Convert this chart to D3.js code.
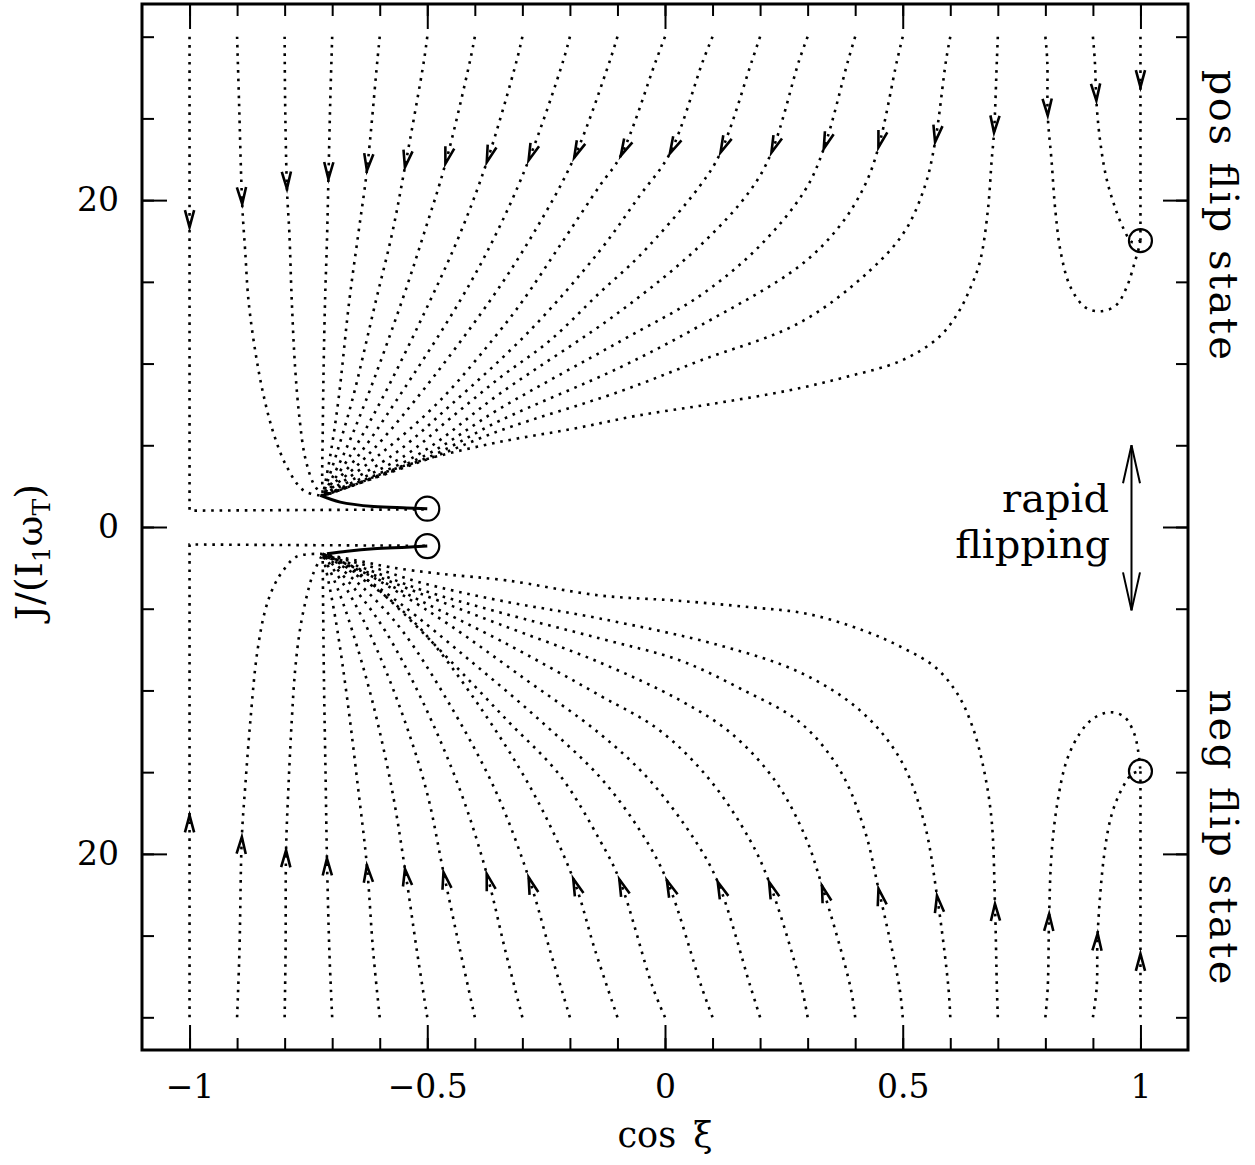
<!DOCTYPE html>
<html><head><meta charset="utf-8">
<script src="https://cdn.jsdelivr.net/npm/d3@7"></script>
<style>body{margin:0;background:#fff} text{font-family:"DejaVu Serif",serif;fill:#000}</style>
</head><body><svg id="c" width="1255" height="1165"></svg>
<script>
// ---------- data ----------
const startCos = [-1,-0.9,-0.8,-0.7,-0.6,-0.5,-0.4,-0.3,-0.2,-0.1,0,0.1,0.2,0.3,0.4,0.5,0.6,0.7,0.8,0.9,1];
const xTicks = [-1,-0.5,0,0.5,1];
const xTickLabels = ["−1","−0.5","0","0.5","1"];
const xMinor = [-1,-0.9,-0.8,-0.7,-0.6,-0.5,-0.4,-0.3,-0.2,-0.1,0,0.1,0.2,0.3,0.4,0.5,0.6,0.7,0.8,0.9,1];
const yTicks = [-20,0,20];
const yTickLabels = ["20","0","20"];
const yMinor = [-30,-25,-20,-15,-10,-5,0,5,10,15,20,25,30];

// trajectories starting at J = +30 (pos flip state side)
const upperCurves = [
 [[-1,30],[-1,1.0],[-0.5,1.08]],
 [[-0.9,30],[-0.896,26.1],[-0.889,19.6],[-0.883,16.9],[-0.876,13.85],[-0.862,10.8],[-0.845,8.15],[-0.823,5.7],[-0.795,3.66],[-0.76,2.23],[-0.72,1.9]],
 [[-0.8,30],[-0.799,26.1],[-0.795,20.6],[-0.79,17.95],[-0.785,13.85],[-0.778,9.77],[-0.769,6.72],[-0.757,4.27],[-0.739,2.64],[-0.72,1.9]],
 [[-0.7,30],[-0.704,26.1],[-0.708,21.2],[-0.711,17.5],[-0.715,13.85],[-0.718,9.77],[-0.72,5.5],[-0.721,3.0],[-0.72,1.9]],
 [[-0.6,30],[-0.605,28.53],[-0.627,21.8],[-0.645,17.95],[-0.664,13.85],[-0.687,7.74],[-0.704,4.37],[-0.72,1.9]],
 [[-0.5,30],[-0.507,28.53],[-0.547,22.01],[-0.574,17.95],[-0.608,13.85],[-0.658,7.74],[-0.692,4.37],[-0.72,1.9]],
 [[-0.4,30],[-0.41,28.53],[-0.462,22.21],[-0.507,17.95],[-0.553,13.85],[-0.629,7.74],[-0.677,4.37],[-0.72,1.9]],
 [[-0.3,30],[-0.312,28.53],[-0.375,22.31],[-0.431,17.95],[-0.494,13.85],[-0.597,7.74],[-0.662,4.37],[-0.72,1.9]],
 [[-0.2,30],[-0.214,28.53],[-0.287,22.42],[-0.355,17.95],[-0.431,13.85],[-0.565,7.74],[-0.645,4.37],[-0.72,1.9]],
 [[-0.1,30],[-0.116,28.53],[-0.191,22.6],[-0.277,17.95],[-0.368,13.85],[-0.526,7.74],[-0.626,4.37],[-0.72,1.9]],
 [[0,30],[-0.019,28.53],[-0.093,22.72],[-0.137,20.89],[-0.221,17.22],[-0.299,13.85],[-0.347,12.02],[-0.473,7.74],[-0.603,4.37],[-0.72,1.9]],
 [[0.1,30],[0.08,28.53],[0.01,22.84],[-0.053,20.28],[-0.137,16.91],[-0.284,12.02],[-0.452,7.43],[-0.574,4.37],[-0.72,1.9]],
 [[0.2,30],[0.183,28.53],[0.117,22.92],[0.074,20.89],[-0.053,16.61],[-0.137,14.34],[-0.242,11.41],[-0.347,9.14],[-0.452,6.64],[-0.547,4.37],[-0.72,1.9]],
 [[0.3,30],[0.282,28.53],[0.224,22.92],[0.179,20.58],[0.074,17.22],[-0.095,13.18],[-0.347,8.17],[-0.523,4.37],[-0.72,1.9]],
 [[0.4,30],[0.385,28.53],[0.334,23.15],[0.294,20.58],[0.2,17.22],[0.074,14.16],[-0.095,11.35],[-0.347,7.25],[-0.505,4.37],[-0.72,1.9]],
 [[0.5,30],[0.488,28.53],[0.449,23.23],[0.42,20.89],[0.368,18.44],[0.284,15.99],[0.074,12.32],[-0.095,9.76],[-0.347,6.51],[-0.49,4.37],[-0.72,1.9]],
 [[0.6,30],[0.591,28.53],[0.568,23.54],[0.547,20.89],[0.505,18.13],[0.431,15.69],[0.284,12.51],[0.074,10.18],[-0.095,8.29],[-0.347,5.9],[-0.479,4.37],[-0.72,1.9]],
 [[0.7,30],[0.698,28.53],[0.692,24.13],[0.687,22.42],[0.679,19.36],[0.663,16.3],[0.643,14.67],[0.615,13.04],[0.576,11.61],[0.497,10.18],[0.378,9.16],[0.259,8.35],[0.101,7.54],[-0.057,6.82],[-0.193,6.01],[-0.333,5.29],[-0.473,4.37],[-0.578,3.46],[-0.648,2.64],[-0.72,1.9]],
 [[0.8,30],[0.804,28.53],[0.805,25.17],[0.813,22.42],[0.821,19.36],[0.833,16.71],[0.853,14.67],[0.884,13.44],[0.916,13.2],[0.948,13.55],[0.971,14.67],[0.987,16.1],[0.997,17.11],[1.0,17.52]],
 [[0.9,30],[0.904,28.53],[0.908,25.76],[0.916,23.44],[0.928,21.4],[0.944,19.77],[0.963,18.34],[0.983,17.42],[1.0,17.52]],
 [[1,30],[1,17.52]]
];
// trajectories starting at J = -30 (neg flip state side)
const lowerCurves = [
 [[-1,-30],[-1,-1.07],[-0.5,-1.15]],
 [[-0.9,-30],[-0.895,-25.9],[-0.89,-18.97],[-0.883,-15.93],[-0.872,-11.83],[-0.858,-7.74],[-0.841,-5.11],[-0.824,-3.7],[-0.803,-2.66],[-0.774,-1.8],[-0.72,-1.65]],
 [[-0.8,-30],[-0.798,-25.9],[-0.797,-19.79],[-0.792,-15.91],[-0.785,-11.83],[-0.778,-8.78],[-0.768,-6.33],[-0.754,-4.29],[-0.74,-2.86],[-0.72,-1.65]],
 [[-0.7,-30],[-0.706,-25.9],[-0.711,-20.29],[-0.714,-15],[-0.717,-10],[-0.719,-5],[-0.72,-1.65]],
 [[-0.6,-30],[-0.614,-25.9],[-0.627,-20.7],[-0.645,-16.1],[-0.668,-10.6],[-0.689,-6.33],[-0.704,-3.88],[-0.72,-1.65]],
 [[-0.5,-30],[-0.522,-25.9],[-0.547,-20.91],[-0.574,-16.1],[-0.616,-10.6],[-0.658,-6.33],[-0.687,-3.88],[-0.72,-1.65]],
 [[-0.4,-30],[-0.431,-25.9],[-0.466,-21.11],[-0.502,-16.1],[-0.563,-10.6],[-0.624,-6.33],[-0.668,-3.88],[-0.72,-1.65]],
 [[-0.3,-30],[-0.336,-25.9],[-0.375,-21.21],[-0.431,-16.1],[-0.511,-10.6],[-0.589,-6.33],[-0.65,-3.88],[-0.72,-1.65]],
 [[-0.2,-30],[-0.242,-25.9],[-0.287,-21.42],[-0.357,-16.1],[-0.458,-10.6],[-0.553,-6.33],[-0.629,-3.88],[-0.72,-1.65]],
 [[-0.1,-30],[-0.147,-25.9],[-0.193,-21.52],[-0.28,-16.1],[-0.399,-10.6],[-0.511,-6.33],[-0.603,-3.88],[-0.72,-1.65]],
 [[0,-30],[-0.026,-28.15],[-0.096,-21.56],[-0.137,-19.17],[-0.221,-15.2],[-0.332,-11.83],[-0.452,-8.17],[-0.578,-4.5],[-0.652,-2.66],[-0.72,-1.65]],
 [[0.1,-30],[0.077,-28.15],[0.004,-21.62],[-0.053,-18.56],[-0.137,-15.3],[-0.263,-11.83],[-0.41,-8.17],[-0.557,-4.68],[-0.641,-2.97],[-0.72,-1.65]],
 [[0.2,-30],[0.18,-28.15],[0.111,-21.72],[0.063,-19.17],[-0.032,-15.5],[-0.137,-12.65],[-0.305,-9.08],[-0.452,-6.02],[-0.557,-4.07],[-0.641,-2.66],[-0.72,-1.65]],
 [[0.3,-30],[0.287,-28.15],[0.219,-21.72],[0.179,-19.17],[0.095,-15.5],[-0.011,-12.45],[-0.137,-10.31],[-0.347,-6.94],[-0.515,-4.5],[-0.62,-2.97],[-0.72,-1.65]],
 [[0.4,-30],[0.39,-28.15],[0.33,-21.93],[0.294,-18.87],[0.231,-15.5],[0.137,-12.57],[0.032,-10.61],[-0.137,-8.29],[-0.347,-5.96],[-0.515,-4.07],[-0.62,-2.84],[-0.72,-1.65]],
 [[0.5,-30],[0.493,-28.15],[0.449,-22.13],[0.42,-18.56],[0.368,-14.89],[0.284,-11.96],[0.158,-9.88],[0.032,-8.17],[-0.137,-6.82],[-0.347,-5.23],[-0.515,-3.82],[-0.62,-2.66],[-0.72,-1.65]],
 [[0.6,-30],[0.596,-28.15],[0.572,-22.54],[0.544,-17.95],[0.494,-14.16],[0.41,-11.22],[0.284,-8.9],[0.116,-7.25],[-0.137,-5.6],[-0.347,-4.5],[-0.515,-3.39],[-0.62,-2.42],[-0.72,-1.65]],
 [[0.7,-30],[0.698,-28.15],[0.694,-23.05],[0.687,-17.95],[0.671,-14.89],[0.647,-12.24],[0.615,-10.2],[0.568,-8.57],[0.497,-7.35],[0.417,-6.33],[0.299,-5.31],[0.18,-4.91],[0.022,-4.5],[-0.137,-4.19],[-0.333,-3.27],[-0.473,-2.86],[-0.578,-2.46],[-0.648,-2.05],[-0.72,-1.65]],
 [[0.8,-30],[0.805,-28.15],[0.808,-23.66],[0.813,-19.99],[0.825,-16.93],[0.845,-14.28],[0.872,-12.65],[0.9,-11.73],[0.936,-11.33],[0.967,-11.64],[0.987,-12.65],[0.995,-13.67],[1.0,-14.94]],
 [[0.9,-30],[0.908,-28.15],[0.91,-24.88],[0.924,-19.99],[0.94,-17.54],[0.963,-15.91],[0.983,-15.1],[1.0,-14.94]],
 [[1,-30],[1,-14.94]]
];
// arrow-head tips (one per trajectory)
const upperArrows = [[-1,18.34],[-0.888,19.77],[-0.795,20.69],[-0.709,21.3],[-0.627,21.8],[-0.547,22.01],[-0.462,22.21],[-0.375,22.31],[-0.287,22.42],[-0.191,22.6],[-0.093,22.72],[0.01,22.84],[0.117,22.92],[0.224,22.92],[0.334,23.15],[0.449,23.23],[0.568,23.54],[0.692,24.13],[0.805,25.17],[0.908,26.08],[1.0,26.9]];
const lowerArrows = [[-1,-17.65],[-0.89,-18.97],[-0.797,-19.79],[-0.711,-20.29],[-0.627,-20.7],[-0.547,-20.91],[-0.466,-21.11],[-0.375,-21.21],[-0.287,-21.42],[-0.193,-21.52],[-0.096,-21.56],[0.004,-21.62],[0.111,-21.72],[0.219,-21.72],[0.33,-21.93],[0.449,-22.13],[0.572,-22.54],[0.694,-23.05],[0.808,-23.66],[0.91,-24.88],[1.0,-26.1]];
// converged (solid) tracks towards the end states
const solidTracks = [
 [[-0.725,1.93],[-0.683,1.52],[-0.613,1.25],[-0.543,1.17],[-0.5,1.12]],
 [[-0.711,-1.64],[-0.669,-1.48],[-0.613,-1.33],[-0.543,-1.24],[-0.5,-1.17]]
];
// end states: rapid flipping attractors, then pos / neg flip states
const endStates = [[-0.5,1.12],[-0.5,-1.17],[1,17.52],[1,-14.94]];
// rapid flipping arrow extent (J)
const rapidRange = [5.0, -5.1];

// ---------- drawing ----------
const W = 1255, H = 1165;
const L = 142, R = 1188, T = 4, B = 1050;
const x = d3.scaleLinear().domain([-1.1,1.1]).range([L,R]);
const y = d3.scaleLinear().domain([-32,32]).range([B,T]);
const svg = d3.select("#c");

const line = d3.line().x(d=>x(d[0])).y(d=>y(d[1])).curve(d3.curveCatmullRom.alpha(0.5));
const lineLin = d3.line().x(d=>x(d[0])).y(d=>y(d[1]));

const gCurves = svg.append("g");
function drawSet(curves, arrows){
  curves.forEach((c,i)=>{
    const straight = (c[0][0] === -1 || c[0][0] === 1);
    const p = gCurves.append("path")
      .attr("d", straight ? lineLin(c) : line(c))
      .attr("fill","none").attr("stroke","#000")
      .attr("stroke-width",2.6).attr("stroke-dasharray","2.6 5.8");
    const node = p.node();
    const len = node.getTotalLength();
    const tx = x(arrows[i][0]), ty = y(arrows[i][1]);
    let best=0, bd=Infinity;
    for(let l=0;l<=len;l+=0.5){
      const q=node.getPointAtLength(l);
      const d=(q.x-tx)*(q.x-tx)+(q.y-ty)*(q.y-ty);
      if(d<bd){bd=d;best=l;}
    }
    const tip=node.getPointAtLength(best), back=node.getPointAtLength(Math.max(0,best-6));
    let dx=tip.x-back.x, dy=tip.y-back.y; const n=Math.hypot(dx,dy)||1; dx/=n; dy/=n;
    const al=17, hw=4.6;
    const bx=tip.x-dx*al, by=tip.y-dy*al;
    gCurves.append("path")
      .attr("d",`M${bx-dy*hw},${by+dx*hw}L${tip.x},${tip.y}L${bx+dy*hw},${by-dx*hw}`)
      .attr("fill","none").attr("stroke","#000").attr("stroke-width",2.6)
      .attr("stroke-linejoin","miter");
  });
}
drawSet(upperCurves, upperArrows);
drawSet(lowerCurves, lowerArrows);

solidTracks.forEach(t=>{
  svg.append("path").attr("d",line(t)).attr("fill","none")
    .attr("stroke","#000").attr("stroke-width",3);
});
endStates.forEach((p,i)=>{
  svg.append("circle").attr("cx",x(p[0])).attr("cy",y(p[1]))
    .attr("r", i<2 ? 12 : 11.5).attr("fill","none").attr("stroke","#000").attr("stroke-width",2.2);
});

// axes (ticks inside on all four sides)
function styleAxis(g){ g.select(".domain").remove(); g.selectAll("line").attr("stroke","#000").attr("stroke-width",2); g.selectAll("text").attr("font-size",33).attr("font-family","DejaVu Serif"); }
svg.append("g").attr("transform",`translate(0,${B})`)
  .call(d3.axisBottom(x).tickValues(xMinor).tickSize(-12).tickFormat("")).call(styleAxis);
svg.append("g").attr("transform",`translate(0,${B})`)
  .call(d3.axisBottom(x).tickValues(xTicks).tickSize(-25).tickPadding(25).tickFormat((d,i)=>xTickLabels[i])).call(styleAxis);
svg.append("g").attr("transform",`translate(0,${T})`)
  .call(d3.axisTop(x).tickValues(xMinor).tickSize(-12).tickFormat("")).call(styleAxis);
svg.append("g").attr("transform",`translate(0,${T})`)
  .call(d3.axisTop(x).tickValues(xTicks).tickSize(-25).tickFormat("")).call(styleAxis);
svg.append("g").attr("transform",`translate(${L},0)`)
  .call(d3.axisLeft(y).tickValues(yMinor).tickSize(-12).tickFormat("")).call(styleAxis);
svg.append("g").attr("transform",`translate(${L},0)`)
  .call(d3.axisLeft(y).tickValues(yTicks).tickSize(-25).tickPadding(23).tickFormat((d,i)=>yTickLabels[i])).call(styleAxis);
svg.append("g").attr("transform",`translate(${R},0)`)
  .call(d3.axisRight(y).tickValues(yMinor).tickSize(-12).tickFormat("")).call(styleAxis);
svg.append("g").attr("transform",`translate(${R},0)`)
  .call(d3.axisRight(y).tickValues(yTicks).tickSize(-25).tickFormat("")).call(styleAxis);

svg.append("rect").attr("x",L).attr("y",T).attr("width",R-L).attr("height",B-T)
  .attr("fill","none").attr("stroke","#000").attr("stroke-width",3);

// axis titles
svg.append("text").attr("x",(L+R)/2).attr("y",1147).attr("text-anchor","middle")
  .attr("font-size",35).attr("word-spacing",6).text("cos ξ");
const yl = svg.append("text").attr("transform","translate(42,552) rotate(-90)")
  .attr("text-anchor","middle").attr("font-size",38);
yl.append("tspan").text("J/(I");
yl.append("tspan").attr("font-size",25).attr("dy",8).text("1");
yl.append("tspan").attr("dy",-8).text("ω");
yl.append("tspan").attr("font-size",25).attr("dy",8).text("T");
yl.append("tspan").attr("dy",-8).text(")");

// side labels
svg.append("text").attr("transform",`translate(1210,${y(19.1)}) rotate(90)`)
  .attr("text-anchor","middle").attr("font-size",40)
  .attr("textLength",290).attr("lengthAdjust","spacing").text("pos flip state");
svg.append("text").attr("transform",`translate(1210,${y(-18.96)}) rotate(90)`)
  .attr("text-anchor","middle").attr("font-size",40)
  .attr("textLength",295).attr("lengthAdjust","spacing").text("neg flip state");

// rapid flipping annotation
const ax = 1131.5;
svg.append("line").attr("x1",ax).attr("x2",ax).attr("y1",y(rapidRange[0])).attr("y2",y(rapidRange[1]))
  .attr("stroke","#000").attr("stroke-width",2);
[[y(rapidRange[0]),1],[y(rapidRange[1]),-1]].forEach(([ty,s])=>{
  svg.append("path").attr("d",`M${ax-8.5},${ty+s*38}L${ax},${ty}L${ax+8.5},${ty+s*38}`)
    .attr("fill","none").attr("stroke","#000").attr("stroke-width",2);
});
svg.append("text").attr("x",1109).attr("y",512).attr("text-anchor","end").attr("font-size",40).text("rapid");
svg.append("text").attr("x",1110).attr("y",558).attr("text-anchor","end").attr("font-size",40).text("flipping");
</script></body></html>
